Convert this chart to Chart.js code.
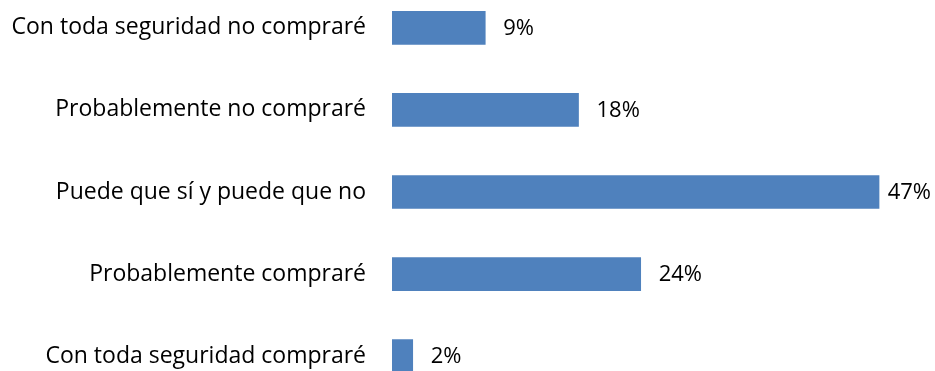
<!DOCTYPE html>
<html>
<head>
<meta charset="utf-8">
<script src="https://cdn.jsdelivr.net/npm/chart.js@4/dist/chart.umd.min.js"></script>
<style>
  html, body { margin: 0; padding: 0; background: #fff; overflow: hidden; }
  body { width: 935px; height: 371px; }
  /* taller canvas so the five bands are 82px apart; the axis adds ~32px above and below */
  #wrap { width: 935px; height: 474px; margin-top: -45px; }
</style>
</head>
<body>
<div id="wrap"><canvas id="chart"></canvas></div>
<script>
const categories = [
    'Con toda seguridad no compraré',
    'Probablemente no compraré',
    'Puede que sí y puede que no',
    'Probablemente compraré',
    'Con toda seguridad compraré'
];
const percentages = [9, 18, 47, 24, 2];

const FONT = '"Open Sans", Lato, sans-serif';

// value labels at the end of each bar
const valueLabels = {
    id: 'valueLabels',
    afterDatasetsDraw(chart) {
        const ctx = chart.ctx;
        const meta = chart.getDatasetMeta(0);
        ctx.save();
        ctx.font = '22px ' + FONT;
        ctx.fillStyle = '#000';
        ctx.textBaseline = 'middle';
        ctx.textAlign = 'left';
        meta.data.forEach((bar, i) => {
            const txt = percentages[i] + '%';
            const w = ctx.measureText(txt).width;
            const x = Math.min(bar.x + 18, chart.width - w - 4);
            ctx.fillText(txt, x, bar.y + 1);
        });
        ctx.restore();
    }
};

const ctx = document.getElementById('chart').getContext('2d');
new Chart(ctx, {
    type: 'bar',
    data: {
        labels: categories,
        datasets: [{
            data: percentages,
            backgroundColor: '#4f81bd',
            barThickness: 33
        }]
    },
    options: {
        indexAxis: 'y',
        responsive: true,
        maintainAspectRatio: false,
        animation: false,
        layout: { padding: 0 },
        plugins: {
            legend: { display: false },
            tooltip: { enabled: false }
        },
        scales: {
            x: {
                display: false,
                min: 0,
                max: 52.4
            },
            y: {
                grid: { display: false },
                border: { display: false },
                ticks: {
                    color: '#000',
                    padding: 18,
                    font: { family: FONT, size: 23 }
                },
                afterFit(scale) { scale.width = 392; }
            }
        }
    },
    plugins: [valueLabels]
});
</script>
</body>
</html>
